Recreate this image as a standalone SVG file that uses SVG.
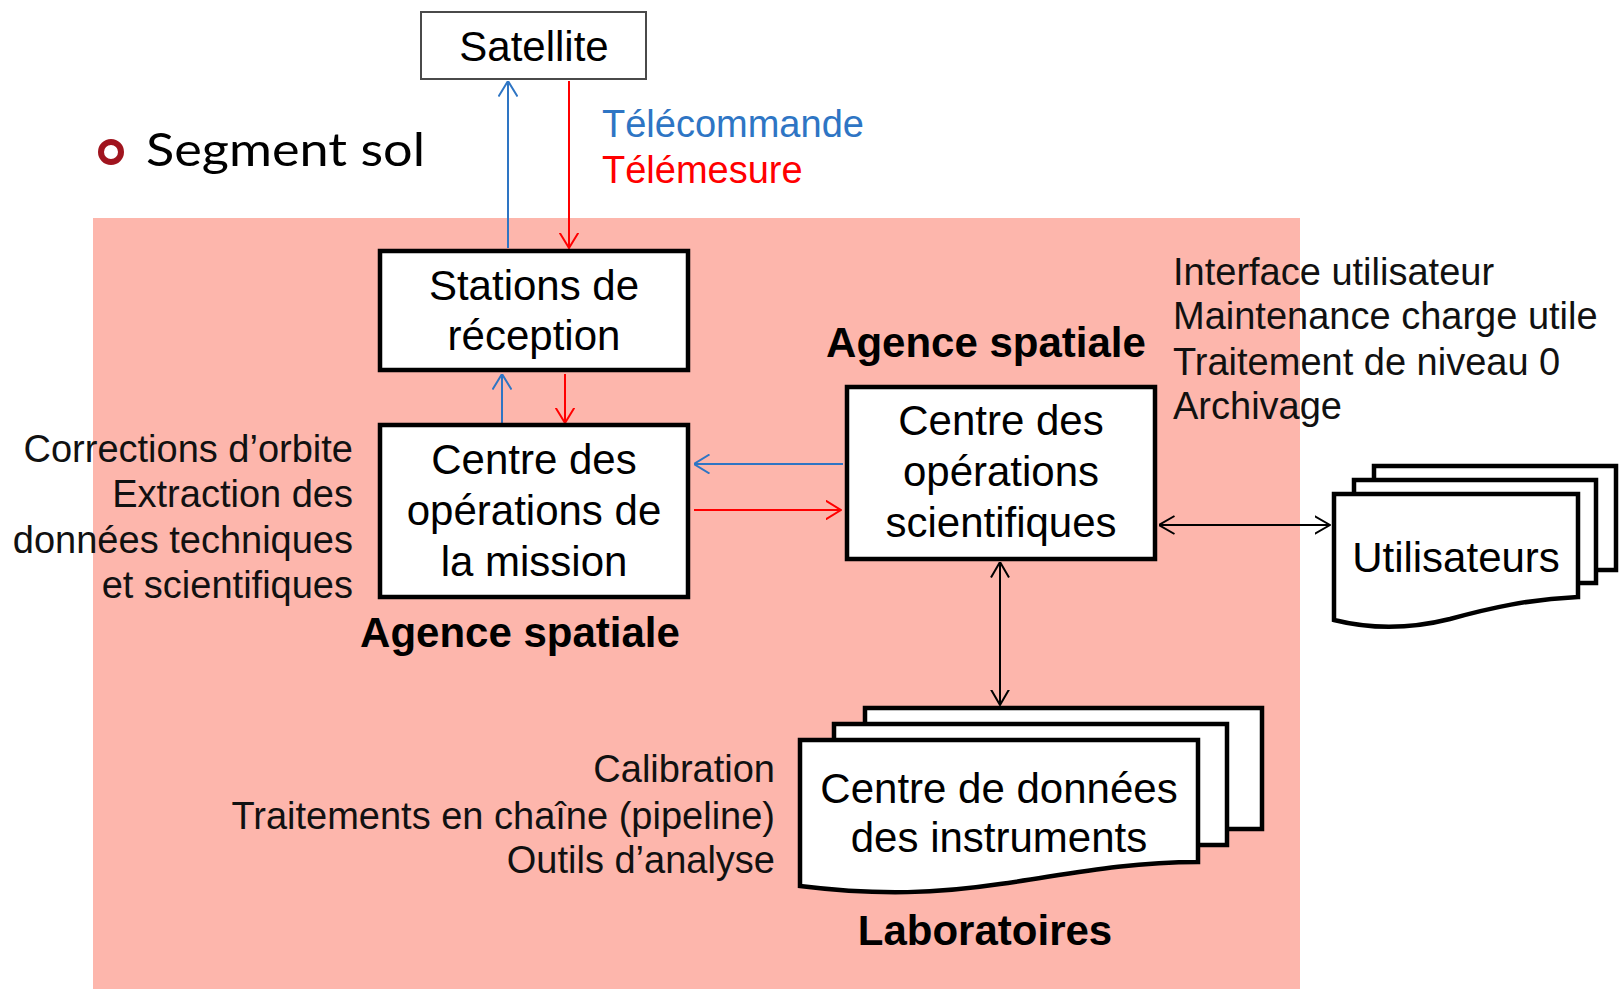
<svg xmlns="http://www.w3.org/2000/svg" width="1624" height="995" viewBox="0 0 1624 995">
<style>
.t{font-family:"Liberation Sans",Arial,sans-serif;font-size:42px;fill:#000}
.s{font-family:"Liberation Sans",Arial,sans-serif;font-size:38px;fill:#111}
.b{font-family:"Liberation Sans",Arial,sans-serif;font-size:42px;font-weight:bold;fill:#000}
.m{text-anchor:middle}
.e{text-anchor:end}
.box{fill:#fff;stroke:#000;stroke-width:4.5}
.ln{fill:none;stroke-width:2}
</style>
<defs>
<marker id="aB" viewBox="0 0 16 20" refX="15.5" refY="10" markerWidth="16" markerHeight="20" markerUnits="userSpaceOnUse" orient="auto-start-reverse"><path d="M0,0.5 L15.5,10 L0,19.5" fill="none" stroke="#2E75C4" stroke-width="2"/></marker>
<marker id="aR" viewBox="0 0 16 20" refX="15.5" refY="10" markerWidth="16" markerHeight="20" markerUnits="userSpaceOnUse" orient="auto-start-reverse"><path d="M0,0.5 L15.5,10 L0,19.5" fill="none" stroke="#FF0000" stroke-width="2"/></marker>
<marker id="aK" viewBox="0 0 16 20" refX="15.5" refY="10" markerWidth="16" markerHeight="20" markerUnits="userSpaceOnUse" orient="auto-start-reverse"><path d="M0,1 L15.5,10 L0,19" fill="none" stroke="#000" stroke-width="2"/></marker>
</defs>
<rect width="1624" height="995" fill="#fff"/>
<rect x="93" y="218" width="1207" height="771" fill="#FDB6AC"/>

<g id="title">
<circle cx="111" cy="152" r="10" fill="none" stroke="#A0141E" stroke-width="6"/>
<text x="146" y="166" font-family="Lato,'Open Sans',sans-serif" font-size="47" fill="#000" textLength="279" lengthAdjust="spacingAndGlyphs">Segment sol</text>
</g>

<g id="satellite">
<rect x="421" y="12" width="225" height="67" fill="#fff" stroke="#4a4a4a" stroke-width="2"/>
<text class="t m" x="534" y="61">Satellite</text>
</g>

<g id="legend">
<text class="s" x="602" y="137" style="fill:#2E75C4">Télécommande</text>
<text class="s" x="602" y="183" style="fill:#FF0000">Télémesure</text>
</g>

<g id="connectors">
<path class="ln" d="M508,248 V81" stroke="#2E75C4" marker-end="url(#aB)"/>
<path class="ln" d="M569,81 V248" stroke="#FF0000" marker-end="url(#aR)"/>
<path class="ln" d="M502,423 V374" stroke="#2E75C4" marker-end="url(#aB)"/>
<path class="ln" d="M565,374 V423" stroke="#FF0000" marker-end="url(#aR)"/>
<path class="ln" d="M843,464 H694" stroke="#2E75C4" marker-end="url(#aB)"/>
<path class="ln" d="M694,510 H841" stroke="#FF0000" marker-end="url(#aR)"/>
<path class="ln" d="M1159,525 H1330" stroke="#000" marker-start="url(#aK)" marker-end="url(#aK)"/>
<path class="ln" d="M1000,562 V705" stroke="#000" marker-start="url(#aK)" marker-end="url(#aK)"/>
</g>

<g id="stations">
<rect class="box" x="380" y="251" width="308" height="119"/>
<text class="t m" x="534" y="300">Stations de</text>
<text class="t m" x="534" y="350">réception</text>
</g>

<g id="mission">
<rect class="box" x="380" y="425" width="308" height="172"/>
<text class="t m" x="534" y="474">Centre des</text>
<text class="t m" x="534" y="525">opérations de</text>
<text class="t m" x="534" y="576">la mission</text>
<text class="b m" x="520" y="647">Agence spatiale</text>
</g>

<g id="mission-tasks">
<text class="s e" x="353" y="462">Corrections d’orbite</text>
<text class="s e" x="353" y="507">Extraction des</text>
<text class="s e" x="353" y="553">données techniques</text>
<text class="s e" x="353" y="598">et scientifiques</text>
</g>

<g id="science">
<rect class="box" x="847" y="387" width="308" height="172"/>
<text class="t m" x="1001" y="435">Centre des</text>
<text class="t m" x="1001" y="486">opérations</text>
<text class="t m" x="1001" y="537">scientifiques</text>
<text class="b m" x="986" y="357">Agence spatiale</text>
</g>

<g id="science-tasks">
<text class="s" x="1173" y="285">Interface utilisateur</text>
<text class="s" x="1173" y="329">Maintenance charge utile</text>
<text class="s" x="1173" y="375">Traitement de niveau 0</text>
<text class="s" x="1173" y="419">Archivage</text>
</g>

<g id="utilisateurs">
<rect class="box" x="1374" y="466" width="242" height="104"/>
<rect class="box" x="1354" y="480" width="242" height="103"/>
<path class="box" d="M1334,494 H1578 V597 C1530,599 1490,608 1450,619 C1410,629 1370,629 1334,620 Z"/>
<text class="t m" x="1456" y="572">Utilisateurs</text>
</g>

<g id="laboratoires">
<rect class="box" x="865" y="708" width="397" height="121"/>
<rect class="box" x="834" y="724" width="393" height="121"/>
<path class="box" d="M800,740 H1198 V862 C1120,862 1060,876 1000,884 C940,893 880,896 800,886 Z"/>
<text class="t m" x="999" y="803">Centre de données</text>
<text class="t m" x="999" y="852">des instruments</text>
<text class="b m" x="985" y="945">Laboratoires</text>
</g>

<g id="lab-tasks">
<text class="s e" x="775" y="782">Calibration</text>
<text class="s e" x="775" y="829">Traitements en chaîne (pipeline)</text>
<text class="s e" x="775" y="873">Outils d’analyse</text>
</g>
</svg>
